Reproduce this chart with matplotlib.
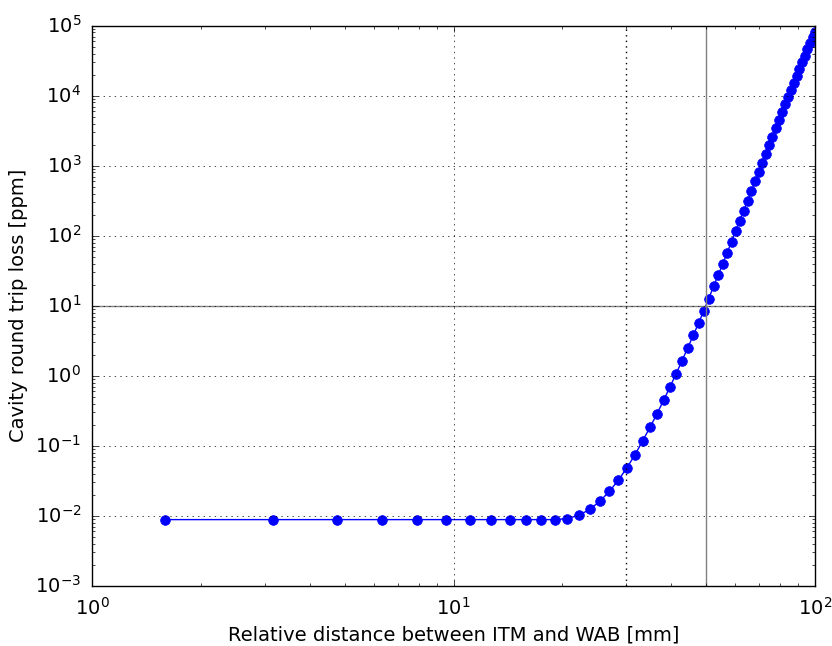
import matplotlib
matplotlib.use('Agg')
import matplotlib.pyplot as plt

# Distance between ITM and WAB [mm]
distance = [1.59, 3.17, 4.76, 6.35, 7.94, 9.52, 11.11, 12.70, 14.29, 15.87,
            17.46, 19.05, 20.63, 22.22, 23.81, 25.40, 26.98, 28.57, 30.16, 31.75,
            33.33, 34.92, 36.51, 38.10, 39.68, 41.27, 42.86, 44.44, 46.03, 47.62,
            49.21, 50.79, 52.38, 53.97, 55.56, 57.14, 58.73, 60.32, 61.90, 63.49,
            65.08, 66.67, 68.25, 69.84, 71.43, 73.02, 74.60, 76.19, 77.78, 79.37,
            80.95, 82.54, 84.13, 85.71, 87.30, 88.89, 90.48, 92.06, 93.65, 95.24,
            96.83, 98.41, 100.0]

# round trip loss [ppm]
loss = [0.0088, 0.0088, 0.0088, 0.0088, 0.0088, 0.0088, 0.0088, 0.0088, 0.0088, 0.0088,
        0.0088, 0.0088, 0.0091, 0.0102, 0.0123, 0.0162, 0.0223, 0.0323, 0.0485, 0.0744,
        0.117, 0.183, 0.284, 0.446, 0.69, 1.07, 1.64, 2.51, 3.77, 5.66,
        8.49, 12.6, 18.9, 27.5, 39.4, 57.2, 82, 117, 164, 228,
        316, 437, 599, 815, 1104, 1484, 1977, 2596, 3420, 4450,
        5800, 7500, 9580, 12190, 15340, 19100, 24000, 30000, 37250, 46000,
        56100, 68200, 81000]

plt.style.use('classic')
fig = plt.figure(figsize=(8.32, 6.46), dpi=100, facecolor='white')
ax = fig.add_axes([0.111, 0.0933, 0.8686, 0.8669])

ax.loglog(distance, loss, 'bo-', markersize=7, markeredgecolor='b')
ax.axvline(50, color='gray')
ax.axhline(10, color='gray')
ax.axvline(30, color='k', linestyle=':')

ax.set_xlim(1, 100)
ax.set_ylim(1e-3, 1e5)
ax.grid(True)
ax.set_xlabel('Relative distance between ITM and WAB [mm]', fontsize=14)
ax.set_ylabel('Cavity round trip loss [ppm]', fontsize=14)
ax.tick_params(which='major', labelsize=14, pad=8)

fig.savefig('out.png', dpi=100, facecolor='white')
